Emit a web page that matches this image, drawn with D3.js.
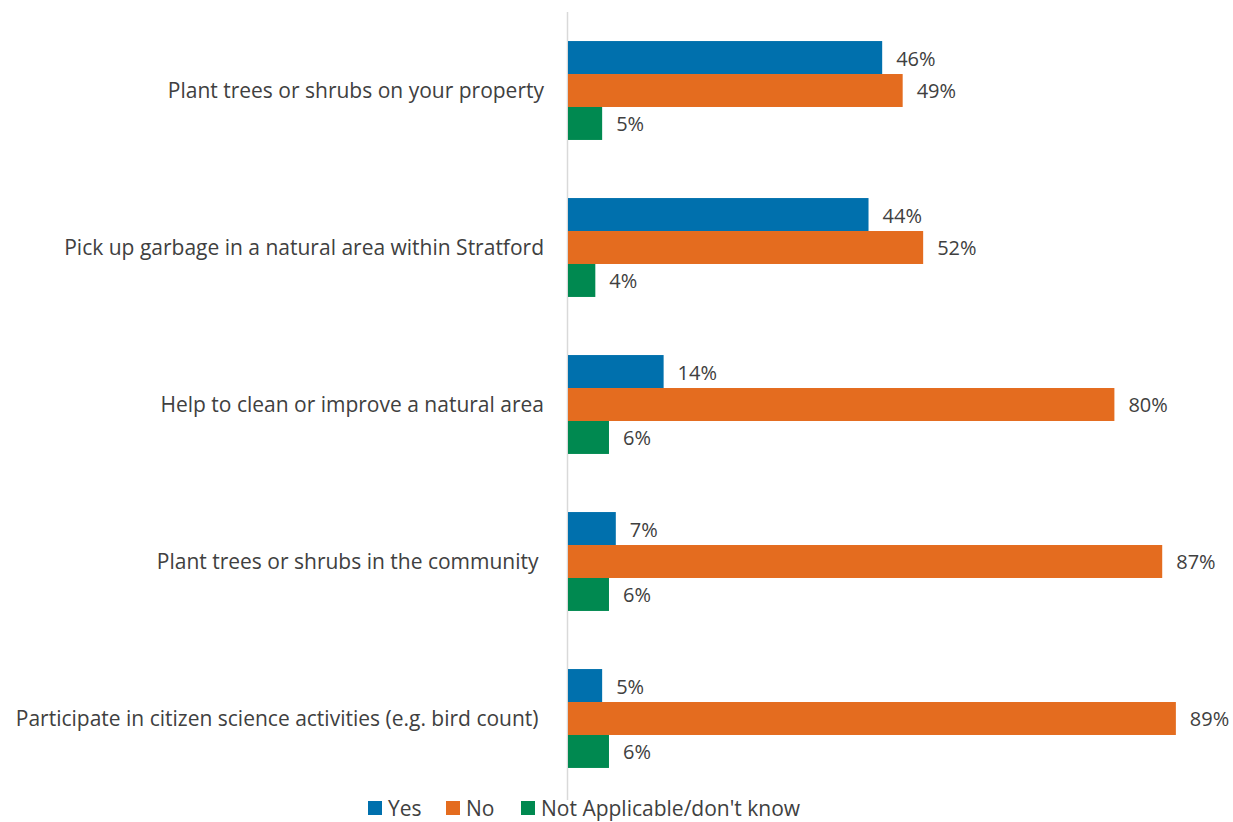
<!DOCTYPE html>
<html>
<head>
<meta charset="utf-8">
<script src="https://cdn.jsdelivr.net/npm/d3@7"></script>
<style>
  html, body { margin: 0; padding: 0; background: #fff; }
  svg { display: block; font-family: "Open Sans", Lato, sans-serif; }
  .cat { white-space: pre; }
</style>
</head>
<body>
<svg id="chart" width="1233" height="822"></svg>
<script>
// Survey activities and response shares (%)
const categories = [
  "Plant trees or shrubs on your property",
  "Pick up garbage in a natural area within Stratford",
  "Help to clean or improve a natural area",
  "Plant trees or shrubs in the community ",
  "Participate in citizen science activities (e.g. bird count) "
];
const seriesNames = ["Yes", "No", "Not Applicable/don't know"];
const yesValues = [46, 44, 14, 7, 5];
const noValues = [49, 52, 80, 87, 89];
const naValues = [5, 4, 6, 6, 6];
const seriesColors = ["#0070ad", "#e46c1f", "#008950"];

const seriesValues = [yesValues, noValues, naValues];

const svg = d3.select("#chart");
const left = 568;

const x = d3.scaleLinear().domain([0, 100]).range([left, left + 683]);
const y = d3.scaleBand().domain(categories).range([12, 797])
  .paddingInner(0.37).paddingOuter(0.185);
const ySub = d3.scaleBand().domain(seriesNames).range([0, y.bandwidth()]);

// vertical category axis line
svg.append("line")
  .attr("x1", left - 0.5).attr("x2", left - 0.5)
  .attr("y1", 12).attr("y2", 800)
  .attr("stroke", "#d9d9d9").attr("stroke-width", 1.5);

const groups = svg.append("g").selectAll("g")
  .data(categories)
  .join("g")
  .attr("transform", d => `translate(0,${y(d)})`);

seriesNames.forEach((name, si) => {
  groups.append("rect")
    .attr("x", left)
    .attr("y", ySub(name))
    .attr("width", (d, i) => x(seriesValues[si][i]) - left)
    .attr("height", ySub.bandwidth())
    .attr("fill", seriesColors[si]);
  groups.append("text")
    .attr("x", (d, i) => x(seriesValues[si][i]) + 14)
    .attr("y", ySub(name) + ySub.bandwidth() / 2 + 1)
    .attr("dy", "0.35em")
    .attr("font-size", 20)
    .attr("fill", "#404040")
    .text((d, i) => seriesValues[si][i] + "%");
});

// category labels
svg.append("g").selectAll("text")
  .data(categories)
  .join("text")
  .attr("class", "cat")
  .attr("x", 544)
  .attr("y", d => y(d) + y.bandwidth() / 2)
  .attr("dy", "0.35em")
  .attr("text-anchor", "end")
  .attr("font-size", 21)
  .attr("fill", "#404040")
  .text(d => d);

// legend
const legendX = [368, 446, 521];
const legend = svg.append("g").selectAll("g")
  .data(seriesNames)
  .join("g")
  .attr("transform", (d, i) => `translate(${legendX[i]},801)`);
legend.append("rect")
  .attr("width", 14).attr("height", 14)
  .attr("fill", (d, i) => seriesColors[i]);
legend.append("text")
  .attr("x", 20).attr("y", 7)
  .attr("dy", "0.36em")
  .attr("font-size", 21)
  .attr("fill", "#404040")
  .text(d => d);
</script>
</body>
</html>
